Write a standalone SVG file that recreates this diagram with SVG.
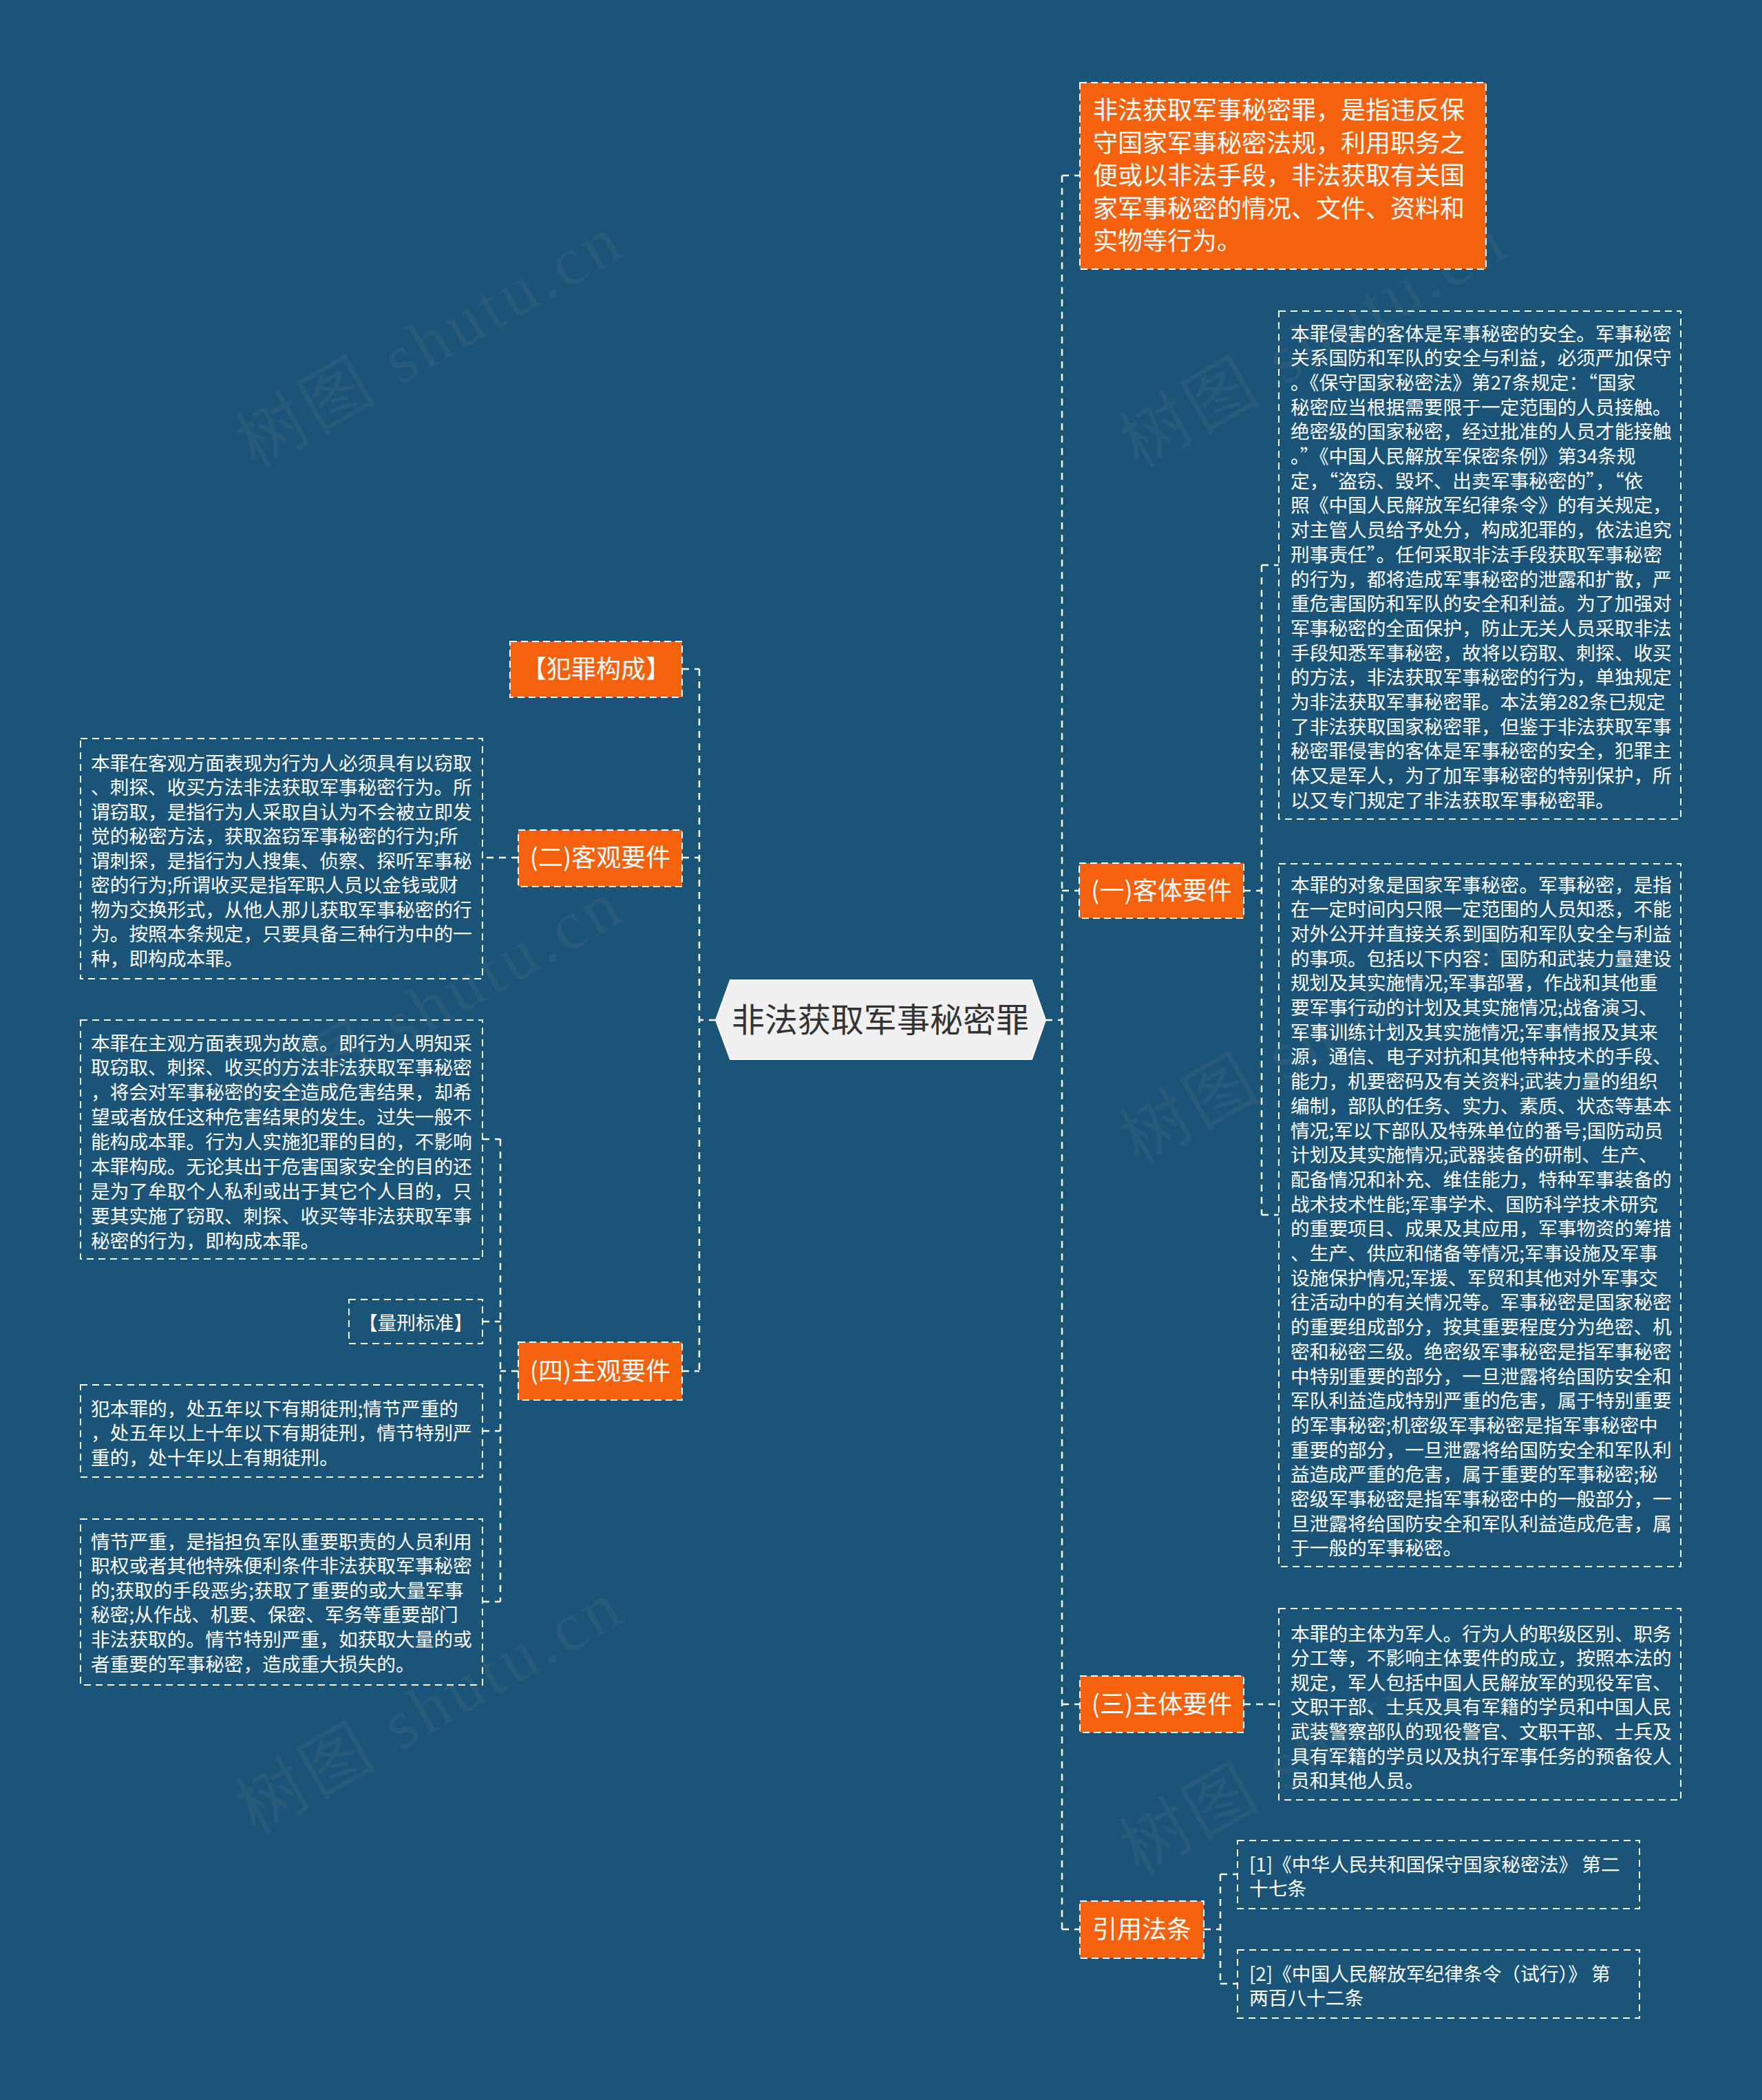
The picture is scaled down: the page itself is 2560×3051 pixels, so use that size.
<svg xmlns="http://www.w3.org/2000/svg" width="2560" height="3051" viewBox="0 0 2560 3051">
<style>
.wm{font-family:"Liberation Serif","Noto Sans CJK SC",serif;font-size:100px;fill:#8a8a8a;opacity:0.13;letter-spacing:6px}
.on{fill:#f5610c;stroke:#ffffff;stroke-width:2;stroke-dasharray:10 6}
.tb{fill:none;stroke:#ffffff;stroke-width:2;stroke-dasharray:10 7}
.cn{fill:none;stroke:#ffffff;stroke-width:2.5;stroke-dasharray:10 8}
.ot{font-family:"Noto Sans CJK SC","Liberation Sans",sans-serif;font-size:36px;fill:#ffffff;text-anchor:middle}
.dt{font-family:"Noto Sans CJK SC","Liberation Sans",sans-serif;font-size:36px;fill:#ffffff}
.t{font-family:"Noto Sans CJK SC","Liberation Sans",sans-serif;font-size:27.7px;fill:#ffffff}
.q{font-feature-settings:"fwid"}
.ct{font-family:"Noto Sans CJK SC","Liberation Sans",sans-serif;font-size:48px;fill:#333333;text-anchor:middle}
</style>
<rect x="0" y="0" width="2560" height="3051" fill="#1a5478"/>

<g id="watermarks">
<text class="wm" transform="translate(642,525) rotate(-30)" text-anchor="middle">树图 shutu.cn</text>
<text class="wm" transform="translate(1926,525) rotate(-30)" text-anchor="middle">树图 shutu.cn</text>
<text class="wm" transform="translate(642,1490) rotate(-30)" text-anchor="middle">树图 shutu.cn</text>
<text class="wm" transform="translate(1926,1537) rotate(-30)" text-anchor="middle">树图 shutu.cn</text>
<text class="wm" transform="translate(642,2509) rotate(-30)" text-anchor="middle">树图 shutu.cn</text>
<text class="wm" transform="translate(1926,2568) rotate(-30)" text-anchor="middle">树图 shutu.cn</text>
</g>

<g id="connectors">
<path class="cn" d="M1040,1482 H1016 M1016,972 V1992 M991,972 H1016 M991,1246 H1016 M991,1992 H1016"/>
<path class="cn" d="M753,1246 H701"/>
<path class="cn" d="M753,1992 H727 M727,1655 V2327 M701,1655 H727 M701,1920 H727 M701,2079 H727 M701,2327 H727"/>
<path class="cn" d="M1519,1482 H1543 M1543,255 V2803 M1543,255 H1568 M1543,1294 H1568 M1543,2476 H1568 M1543,2803 H1568"/>
<path class="cn" d="M1807,1294 H1833 M1833,821 V1765 M1833,821 H1858 M1833,1765 H1858"/>
<path class="cn" d="M1807,2476 H1858"/>
<path class="cn" d="M1749,2803 H1773 M1773,2723 V2882 M1773,2723 H1798 M1773,2882 H1798"/>
</g>

<g id="center">
<polygon points="1040,1482 1061,1424 1499,1424 1519,1482 1499,1539 1061,1539" fill="#f0f0f0" stroke="#ffffff" stroke-width="2"/>
<text class="ct" x="1279" y="1499">非法获取军事秘密罪</text>
</g>

<g id="definition">
<rect class="on" x="1569" y="120" width="590" height="271"/>
<text class="dt">
<tspan x="1588" y="173">非法获取军事秘密罪，是指违反保</tspan>
<tspan x="1588" y="220.5">守国家军事秘密法规，利用职务之</tspan>
<tspan x="1588" y="268">便或以非法手段，非法获取有关国</tspan>
<tspan x="1588" y="315.5">家军事秘密的情况、文件、资料和</tspan>
<tspan x="1588" y="363">实物等行为。</tspan>
</text>
</g>

<g id="n-keti">
<rect class="on" x="1568" y="1254" width="239" height="80"/>
<text class="ot" x="1687.5" y="1307">(一)客体要件</text>
</g>

<g id="keti-1">
<rect class="tb" x="1858" y="452" width="584" height="738"/>
<text class="t">
<tspan x="1875" y="494.5">本罪侵害的客体是军事秘密的安全。军事秘密</tspan>
<tspan x="1875" y="530.2">关系国防和军队的安全与利益，必须严加保守</tspan>
<tspan x="1875" y="565.9">。《保守国家秘密法》第27条规定：<tspan class="q">“</tspan>国家</tspan>
<tspan x="1875" y="601.6">秘密应当根据需要限于一定范围的人员接触。</tspan>
<tspan x="1875" y="637.3">绝密级的国家秘密，经过批准的人员才能接触</tspan>
<tspan x="1875" y="673">。<tspan class="q">”</tspan>《中国人民解放军保密条例》第34条规</tspan>
<tspan x="1875" y="708.7">定，<tspan class="q">“</tspan>盗窃、毁坏、出卖军事秘密的<tspan class="q">”</tspan>，<tspan class="q">“</tspan>依</tspan>
<tspan x="1875" y="744.4">照《中国人民解放军纪律条令》的有关规定，</tspan>
<tspan x="1875" y="780.1">对主管人员给予处分，构成犯罪的，依法追究</tspan>
<tspan x="1875" y="815.8">刑事责任<tspan class="q">”</tspan>。任何采取非法手段获取军事秘密</tspan>
<tspan x="1875" y="851.5">的行为，都将造成军事秘密的泄露和扩散，严</tspan>
<tspan x="1875" y="887.2">重危害国防和军队的安全和利益。为了加强对</tspan>
<tspan x="1875" y="922.9">军事秘密的全面保护，防止无关人员采取非法</tspan>
<tspan x="1875" y="958.6">手段知悉军事秘密，故将以窃取、刺探、收买</tspan>
<tspan x="1875" y="994.3">的方法，非法获取军事秘密的行为，单独规定</tspan>
<tspan x="1875" y="1030">为非法获取军事秘密罪。本法第282条已规定</tspan>
<tspan x="1875" y="1065.7">了非法获取国家秘密罪，但鉴于非法获取军事</tspan>
<tspan x="1875" y="1101.4">秘密罪侵害的客体是军事秘密的安全，犯罪主</tspan>
<tspan x="1875" y="1137.1">体又是军人，为了加军事秘密的特别保护，所</tspan>
<tspan x="1875" y="1172.8">以又专门规定了非法获取军事秘密罪。</tspan>
</text>
</g>

<g id="keti-2">
<rect class="tb" x="1858" y="1255" width="584" height="1021"/>
<text class="t">
<tspan x="1875" y="1295.5">本罪的对象是国家军事秘密。军事秘密，是指</tspan>
<tspan x="1875" y="1331.2">在一定时间内只限一定范围的人员知悉，不能</tspan>
<tspan x="1875" y="1366.9">对外公开并直接关系到国防和军队安全与利益</tspan>
<tspan x="1875" y="1402.6">的事项。包括以下内容：国防和武装力量建设</tspan>
<tspan x="1875" y="1438.3">规划及其实施情况;军事部署，作战和其他重</tspan>
<tspan x="1875" y="1474">要军事行动的计划及其实施情况;战备演习、</tspan>
<tspan x="1875" y="1509.7">军事训练计划及其实施情况;军事情报及其来</tspan>
<tspan x="1875" y="1545.4">源，通信、电子对抗和其他特种技术的手段、</tspan>
<tspan x="1875" y="1581.1">能力，机要密码及有关资料;武装力量的组织</tspan>
<tspan x="1875" y="1616.8">编制，部队的任务、实力、素质、状态等基本</tspan>
<tspan x="1875" y="1652.5">情况;军以下部队及特殊单位的番号;国防动员</tspan>
<tspan x="1875" y="1688.2">计划及其实施情况;武器装备的研制、生产、</tspan>
<tspan x="1875" y="1723.9">配备情况和补充、维佳能力，特种军事装备的</tspan>
<tspan x="1875" y="1759.6">战术技术性能;军事学术、国防科学技术研究</tspan>
<tspan x="1875" y="1795.3">的重要项目、成果及其应用，军事物资的筹措</tspan>
<tspan x="1875" y="1831">、生产、供应和储备等情况;军事设施及军事</tspan>
<tspan x="1875" y="1866.7">设施保护情况;军援、军贸和其他对外军事交</tspan>
<tspan x="1875" y="1902.4">往活动中的有关情况等。军事秘密是国家秘密</tspan>
<tspan x="1875" y="1938.1">的重要组成部分，按其重要程度分为绝密、机</tspan>
<tspan x="1875" y="1973.8">密和秘密三级。绝密级军事秘密是指军事秘密</tspan>
<tspan x="1875" y="2009.5">中特别重要的部分，一旦泄露将给国防安全和</tspan>
<tspan x="1875" y="2045.2">军队利益造成特别严重的危害，属于特别重要</tspan>
<tspan x="1875" y="2080.9">的军事秘密;机密级军事秘密是指军事秘密中</tspan>
<tspan x="1875" y="2116.6">重要的部分，一旦泄露将给国防安全和军队利</tspan>
<tspan x="1875" y="2152.3">益造成严重的危害，属于重要的军事秘密;秘</tspan>
<tspan x="1875" y="2188">密级军事秘密是指军事秘密中的一般部分，一</tspan>
<tspan x="1875" y="2223.7">旦泄露将给国防安全和军队利益造成危害，属</tspan>
<tspan x="1875" y="2259.4">于一般的军事秘密。</tspan>
</text>
</g>

<g id="n-zhuti">
<rect class="on" x="1569" y="2435" width="238" height="82"/>
<text class="ot" x="1688" y="2489">(三)主体要件</text>
</g>

<g id="zhuti-1">
<rect class="tb" x="1858" y="2337" width="584" height="278"/>
<text class="t">
<tspan x="1875" y="2383.5">本罪的主体为军人。行为人的职级区别、职务</tspan>
<tspan x="1875" y="2419.1">分工等，不影响主体要件的成立，按照本法的</tspan>
<tspan x="1875" y="2454.7">规定，军人包括中国人民解放军的现役军官、</tspan>
<tspan x="1875" y="2490.3">文职干部、士兵及具有军籍的学员和中国人民</tspan>
<tspan x="1875" y="2525.9">武装警察部队的现役警官、文职干部、士兵及</tspan>
<tspan x="1875" y="2561.5">具有军籍的学员以及执行军事任务的预备役人</tspan>
<tspan x="1875" y="2597.1">员和其他人员。</tspan>
</text>
</g>

<g id="n-yinyong">
<rect class="on" x="1569" y="2762" width="180" height="83"/>
<text class="ot" x="1659" y="2816">引用法条</text>
</g>

<g id="ref-1">
<rect class="tb" x="1798" y="2674" width="584" height="99"/>
<text class="t">
<tspan x="1815" y="2718.5">[1]《中华人民共和国保守国家秘密法》 第二</tspan>
<tspan x="1815" y="2753.5">十七条</tspan>
</text>
</g>

<g id="ref-2">
<rect class="tb" x="1798" y="2833" width="584" height="99"/>
<text class="t">
<tspan x="1815" y="2877.5">[2]《中国人民解放军纪律条令（试行）》 第</tspan>
<tspan x="1815" y="2912.5">两百八十二条</tspan>
</text>
</g>

<g id="n-fanzui">
<rect class="on" x="741" y="932" width="250" height="81"/>
<text class="ot" x="866" y="985">【犯罪构成】</text>
</g>

<g id="n-keguan">
<rect class="on" x="753" y="1206" width="238" height="82"/>
<text class="ot" x="872" y="1259">(二)客观要件</text>
</g>

<g id="keguan-1">
<rect class="tb" x="117" y="1073" width="584" height="349"/>
<text class="t">
<tspan x="132" y="1118.5">本罪在客观方面表现为行为人必须具有以窃取</tspan>
<tspan x="132" y="1154">、刺探、收买方法非法获取军事秘密行为。所</tspan>
<tspan x="132" y="1189.5">谓窃取，是指行为人采取自认为不会被立即发</tspan>
<tspan x="132" y="1225">觉的秘密方法，获取盗窃军事秘密的行为;所</tspan>
<tspan x="132" y="1260.5">谓刺探，是指行为人搜集、侦察、探听军事秘</tspan>
<tspan x="132" y="1296">密的行为;所谓收买是指军职人员以金钱或财</tspan>
<tspan x="132" y="1331.5">物为交换形式，从他人那儿获取军事秘密的行</tspan>
<tspan x="132" y="1367">为。按照本条规定，只要具备三种行为中的一</tspan>
<tspan x="132" y="1402.5">种，即构成本罪。</tspan>
</text>
</g>

<g id="n-zhuguan">
<rect class="on" x="753" y="1950" width="238" height="84"/>
<text class="ot" x="872" y="2005">(四)主观要件</text>
</g>

<g id="zhuguan-1">
<rect class="tb" x="117" y="1482" width="584" height="347"/>
<text class="t">
<tspan x="132" y="1525.5">本罪在主观方面表现为故意。即行为人明知采</tspan>
<tspan x="132" y="1561.4">取窃取、刺探、收买的方法非法获取军事秘密</tspan>
<tspan x="132" y="1597.3">，将会对军事秘密的安全造成危害结果，却希</tspan>
<tspan x="132" y="1633.2">望或者放任这种危害结果的发生。过失一般不</tspan>
<tspan x="132" y="1669.1">能构成本罪。行为人实施犯罪的目的，不影响</tspan>
<tspan x="132" y="1705">本罪构成。无论其出于危害国家安全的目的还</tspan>
<tspan x="132" y="1740.9">是为了牟取个人私利或出于其它个人目的，只</tspan>
<tspan x="132" y="1776.8">要其实施了窃取、刺探、收买等非法获取军事</tspan>
<tspan x="132" y="1812.7">秘密的行为，即构成本罪。</tspan>
</text>
</g>

<g id="liangxing">
<rect class="tb" x="507" y="1888" width="194" height="64"/>
<text class="t" x="604" y="1932" text-anchor="middle">【量刑标准】</text>
</g>

<g id="fanbenzui">
<rect class="tb" x="117" y="2012" width="584" height="134"/>
<text class="t">
<tspan x="132" y="2056.5">犯本罪的，处五年以下有期徒刑;情节严重的</tspan>
<tspan x="132" y="2092">，处五年以上十年以下有期徒刑，情节特别严</tspan>
<tspan x="132" y="2127.5">重的，处十年以上有期徒刑。</tspan>
</text>
</g>

<g id="qingjie">
<rect class="tb" x="117" y="2207" width="584" height="241"/>
<text class="t">
<tspan x="132" y="2249.5">情节严重，是指担负军队重要职责的人员利用</tspan>
<tspan x="132" y="2285.1">职权或者其他特殊便利条件非法获取军事秘密</tspan>
<tspan x="132" y="2320.7">的;获取的手段恶劣;获取了重要的或大量军事</tspan>
<tspan x="132" y="2356.3">秘密;从作战、机要、保密、军务等重要部门</tspan>
<tspan x="132" y="2391.9">非法获取的。情节特别严重，如获取大量的或</tspan>
<tspan x="132" y="2427.5">者重要的军事秘密，造成重大损失的。</tspan>
</text>
</g>
</svg>
